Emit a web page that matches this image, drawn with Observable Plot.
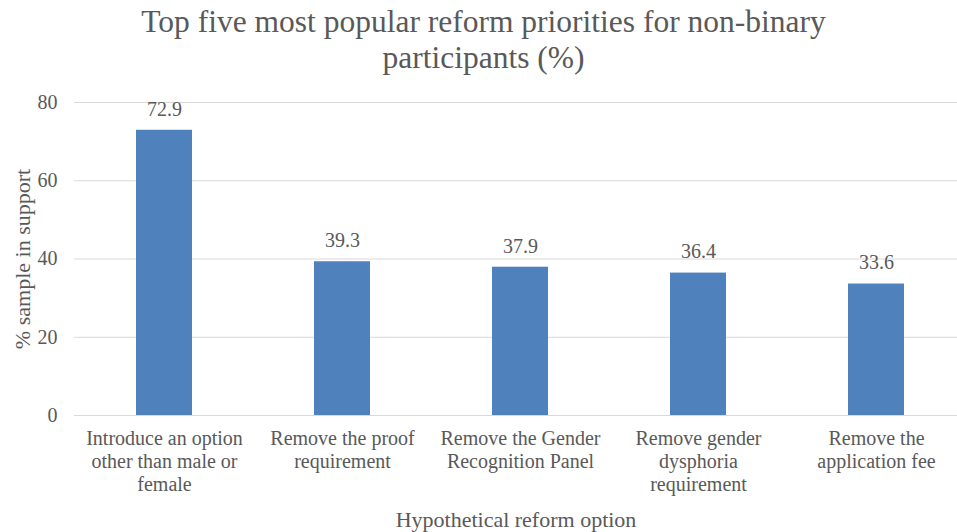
<!DOCTYPE html>
<html>
<head>
<meta charset="utf-8">
<script src="https://cdn.jsdelivr.net/npm/d3@7"></script>
<script src="https://cdn.jsdelivr.net/npm/@observablehq/plot@0.6"></script>
<style>
  html, body { margin: 0; padding: 0; background: #fff; }
  #title { width: 957px; height: 80px; box-sizing: border-box; padding-top: 4px; padding-left: 10px;
    font-family: "Liberation Serif", "Times New Roman", serif; font-size: 31.5px; line-height: 36px; color: #595959; text-align: center; }
</style>
</head>
<body>
<div id="title">Top five most popular reform priorities for non-binary<br>participants (%)</div>
<div id="chart"></div>
<script>
const categories = ["Introduce an option other than male or female", "Remove the proof requirement", "Remove the Gender Recognition Panel", "Remove gender dysphoria requirement", "Remove the application fee"];
const values = [72.9, 39.3, 37.9, 36.4, 33.6];
const tickLabels = ["Introduce an option\nother than male or\nfemale", "Remove the proof\nrequirement", "Remove the Gender\nRecognition Panel", "Remove gender\ndysphoria\nrequirement", "Remove the\napplication fee"];
const yTicks = [0, 20, 40, 60, 80];
const xTitle = "Hypothetical reform option";
const yTitle = "% sample in support";

const data = categories.map((c, i) => ({category: c, value: values[i]}));
const labelOf = new Map(categories.map((c, i) => [c, tickLabels[i]]));

const chart = Plot.plot({
  width: 957,
  height: 452,
  marginLeft: 74,
  marginRight: 0,
  marginTop: 22,
  marginBottom: 117,
  style: {fontFamily: "'Liberation Serif', 'Times New Roman', serif", fontSize: "20px", color: "#595959", background: "#fff"},
  x: {domain: categories, range: [74, 966], paddingInner: 0.686, paddingOuter: 0.343},
  y: {domain: [0, 80], range: [335, 22]},
  marks: [
    Plot.ruleY(yTicks, {stroke: "#d9d9d9", strokeWidth: 1}),
    Plot.barY(data, {x: "category", y: "value", fill: "#4f81bd"}),
    Plot.text(data, {x: "category", y: "value", text: d => d.value.toFixed(1), dy: -21, fontSize: 20, fill: "#595959"}),
    Plot.axisY({ticks: yTicks, tickSize: 0, tickPadding: 17, fontSize: 20, label: null}),
    Plot.axisX({tickSize: 0, tickPadding: 13, fontSize: 20, lineHeight: 1.15, tickFormat: d => labelOf.get(d), label: null}),
    Plot.text([xTitle], {frameAnchor: "bottom", dy: 104, textAnchor: "middle", lineAnchor: "middle", fontSize: 22, fill: "#595959"}),
    Plot.text([yTitle], {frameAnchor: "left", dx: -52, rotate: -90, textAnchor: "middle", lineAnchor: "middle", fontSize: 22, fill: "#595959"})
  ]
});
document.getElementById("chart").appendChild(chart);
</script>
</body>
</html>
